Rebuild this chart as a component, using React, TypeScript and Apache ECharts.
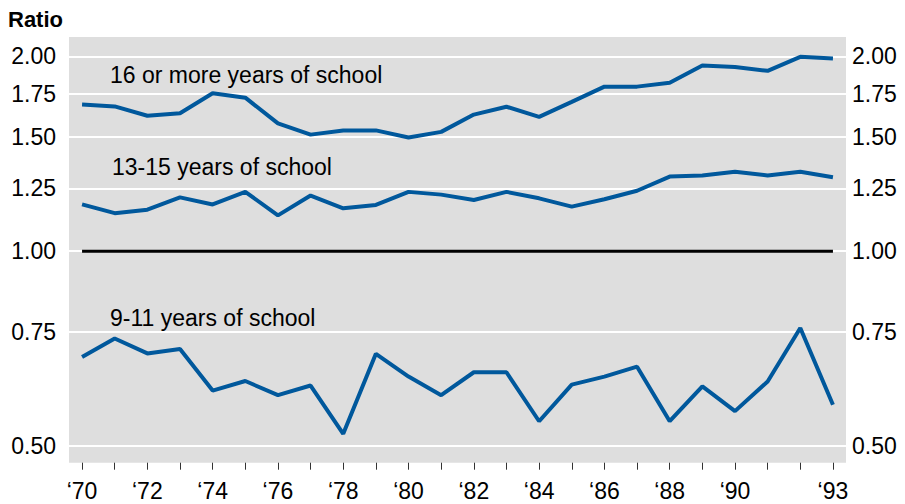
import React, { useEffect, useRef } from "react";
import * as echarts from "echarts";

const years = [1970,1971,1972,1973,1974,1975,1976,1977,1978,1979,1980,1981,1982,1983,1984,1985,1986,1987,1988,1989,1990,1991,1992,1993];
const xLabelYears = [1970,1972,1974,1976,1978,1980,1982,1984,1986,1988,1990,1993];
const yTickValues = [0.5, 0.75, 1.0, 1.25, 1.5, 1.75, 2.0];

const college16 = [1.686,1.674,1.619,1.634,1.754,1.727,1.576,1.514,1.537,1.537,1.499,1.529,1.626,1.672,1.613,1.701,1.796,1.796,1.821,1.936,1.926,1.900,1.997,1.985];
const college13 = [1.181,1.145,1.159,1.211,1.181,1.235,1.136,1.219,1.165,1.179,1.235,1.223,1.200,1.235,1.207,1.172,1.203,1.240,1.304,1.309,1.327,1.309,1.327,1.301];
const school911 = [0.686,0.733,0.695,0.706,0.609,0.630,0.599,0.620,0.522,0.694,0.640,0.599,0.650,0.650,0.546,0.622,0.640,0.663,0.546,0.618,0.566,0.629,0.761,0.579];
const parity = 1.0;

const seriesLabels = ["16 or more years of school", "13-15 years of school", "9-11 years of school"];

const FONT = "'Liberation Sans', Arial, sans-serif";
const BLUE = "#00589c";

export default function App() {
  const ref = useRef<HTMLDivElement>(null);
  useEffect(() => {
    document.body.style.margin = "0";
    if (!ref.current) return;
    const chart = echarts.init(ref.current, null, { renderer: "svg" });
    const yMin = Math.log(0.4711);
    const yMax = Math.log(2.143);
    const lnTicks = yTickValues.map((v) => Math.log(v));
    const toPairs = (arr: number[]) => arr.map((v, i) => [years[i], Math.log(v)]);
    const yAxisBase = (pos: "left" | "right", margin: number, grid: boolean) => ({
      type: "value",
      position: pos,
      min: yMin,
      max: yMax,
      axisLine: { show: false },
      axisTick: { show: false, customValues: lnTicks },
      axisLabel: {
        customValues: lnTicks,
        formatter: (v: number) => Math.exp(v).toFixed(2),
        color: "#000",
        fontSize: 23,
        fontFamily: FONT,
        margin,
      },
      splitLine: { show: grid, lineStyle: { color: "#ffffff", width: 2 } },
    });
    chart.setOption({
      animation: false,
      grid: {
        left: 69,
        right: 59,
        top: 37,
        bottom: 41.3,
        show: true,
        backgroundColor: "#dedede",
        borderWidth: 0,
      },
      xAxis: {
        type: "value",
        min: 1969.6,
        max: 1993.4,
        axisLine: { show: true, onZero: false, lineStyle: { color: "#dedede", opacity: 0 } },
        axisTick: {
          show: true,
          inside: false,
          customValues: years,
          length: 7,
          lineStyle: { color: "#333333", width: 1, opacity: 1 },
        },
        axisLabel: {
          customValues: xLabelYears,
          formatter: (v: number) => "\u2018" + String(v).slice(2),
          color: "#000",
          fontSize: 23,
          fontFamily: FONT,
          margin: 17,
        },
        splitLine: { show: false },
      },
      yAxis: [yAxisBase("left", 13, true), yAxisBase("right", 6, false)],
      graphic: [
        { type: "text", left: 8, top: 8, style: { text: "Ratio", fontSize: 22, fontWeight: "bold", fontFamily: FONT, fill: "#000" } },
        { type: "text", x: 110, y: 75, style: { text: seriesLabels[0], fontSize: 23, fontFamily: FONT, fill: "#000", textVerticalAlign: "middle" } },
        { type: "text", x: 112, y: 167, style: { text: seriesLabels[1], fontSize: 23, fontFamily: FONT, fill: "#000", textVerticalAlign: "middle" } },
        { type: "text", x: 110, y: 318, style: { text: seriesLabels[2], fontSize: 23, fontFamily: FONT, fill: "#000", textVerticalAlign: "middle" } },
      ],
      series: [
        {
          type: "line",
          data: [[years[0], Math.log(parity)], [years[years.length - 1], Math.log(parity)]],
          symbol: "none",
          lineStyle: { color: "#000", width: 3 },
        },
        { type: "line", name: seriesLabels[0], data: toPairs(college16), symbol: "none", lineStyle: { color: BLUE, width: 4 } },
        { type: "line", name: seriesLabels[1], data: toPairs(college13), symbol: "none", lineStyle: { color: BLUE, width: 4 } },
        { type: "line", name: seriesLabels[2], data: toPairs(school911), symbol: "none", lineStyle: { color: BLUE, width: 4 } },
      ],
    });
    return () => chart.dispose();
  }, []);
  return <div ref={ref} style={{ width: 905, height: 504 }} />;
}
